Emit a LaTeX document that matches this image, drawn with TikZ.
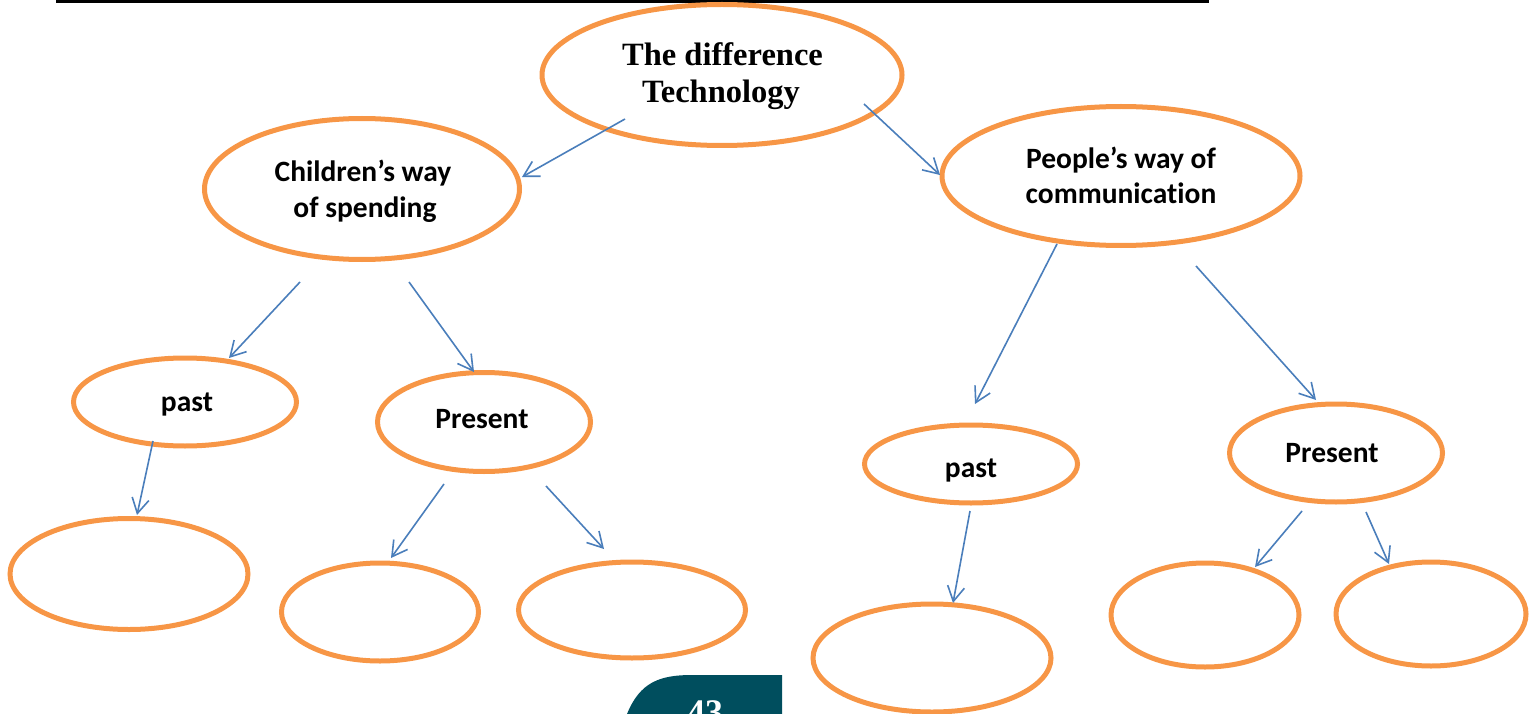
\documentclass[tikz,border=0pt]{standalone}
\usepackage{fontspec}
\setmainfont{Liberation Serif}
\newfontfamily\calib[Ligatures=NoCommon]{Carlito}
\usetikzlibrary{shapes.geometric,arrows.meta}
\definecolor{orng}{HTML}{F79646}
\definecolor{blu}{HTML}{4A7EBB}
\definecolor{teal43}{HTML}{004E5E}
\begin{document}
\begin{tikzpicture}[x=1pt,y=-1pt,
  bub/.style={ellipse,draw=orng,line width=5pt,inner sep=0pt},
  lab/.style={anchor=base,inner sep=0pt,font=\calib\bfseries\fontsize{29.5}{31}\selectfont},
  ttl/.style={anchor=base,inner sep=0pt,font=\bfseries\fontsize{32.5}{35}\selectfont},
  conn/.style={draw=blu,line width=1.6pt,-{Straight Barb[length=15pt,width=17pt]}}]
\useasboundingbox (0,0) rectangle (1530,714);
\fill[black] (56,0) rectangle (1209,3.5);
% teal tab
\fill[teal43] (627,714) .. controls (640,682) and (660,675) .. (692,675) -- (782,675) -- (782,714) -- cycle;
\node[text=white,anchor=base,font=\bfseries\fontsize{36}{36}\selectfont] (pg) at (705,724) {43};
% ellipses
\node[bub,minimum width=360pt,minimum height=141pt] (top) at (722,75) {};
\node[bub,minimum width=315pt,minimum height=141pt] (ch) at (362,189) {};
\node[bub,minimum width=358pt,minimum height=139pt] (pe) at (1121,176) {};
\node[bub,minimum width=223pt,minimum height=88pt] (p1) at (185,402) {};
\node[bub,minimum width=213pt,minimum height=99pt] (r1) at (484,422) {};
\node[bub,minimum width=213pt,minimum height=78pt] (p2) at (971,464) {};
\node[bub,minimum width=213pt,minimum height=98pt] (r2) at (1336,453) {};
\node[bub,minimum width=238pt,minimum height=111pt] (e1) at (129,574) {};
\node[bub,minimum width=197pt,minimum height=98pt] (e2) at (380,612) {};
\node[bub,minimum width=227pt,minimum height=96pt] (e3) at (632,610) {};
\node[bub,minimum width=238pt,minimum height=108pt] (e4) at (932,658) {};
\node[bub,minimum width=188pt,minimum height=104pt] (e5) at (1205,615) {};
\node[bub,minimum width=190pt,minimum height=104pt] (e6) at (1431,614) {};
% labels
\node[ttl] (t1) at (722.5,66) {The difference};
\node[ttl] (t2) at (721,103) {Technology};
\node[lab] (c1) at (363,182) {Children’s way};
\node[lab] (c2) at (365,217) {of spending};
\node[lab] (q1) at (1121,168) {People’s way of};
\node[lab] (q2) at (1121,204) {communication};
\node[lab] (l1) at (187,411) {past};
\node[lab] (l2) at (482,428) {Present};
\node[lab] (l3) at (971,477) {past};
\node[lab] (l4) at (1332,462) {Present};
% connector endpoints
\coordinate (a1) at (625,119); \coordinate (b1) at (522,177);
\coordinate (a2) at (864,104); \coordinate (b2) at (940,175);
\coordinate (a3) at (300,282); \coordinate (b3) at (229,358);
\coordinate (a4) at (409,282); \coordinate (b4) at (474,372);
\coordinate (a5) at (1057,244); \coordinate (b5) at (975,404);
\coordinate (a6) at (1196,266); \coordinate (b6) at (1316,400);
\coordinate (a7) at (153,441); \coordinate (b7) at (137,515);
\coordinate (a8) at (444,484); \coordinate (b8) at (391,558);
\coordinate (a9) at (546,486); \coordinate (b9) at (604,549);
\coordinate (a10) at (970,511); \coordinate (b10) at (953,603);
\coordinate (a11) at (1302,511); \coordinate (b11) at (1255,567);
\coordinate (a12) at (1366,512); \coordinate (b12) at (1389,564);
\foreach \i in {1,...,12}{\draw[conn] (a\i) -- (b\i);}
\end{tikzpicture}
\end{document}
